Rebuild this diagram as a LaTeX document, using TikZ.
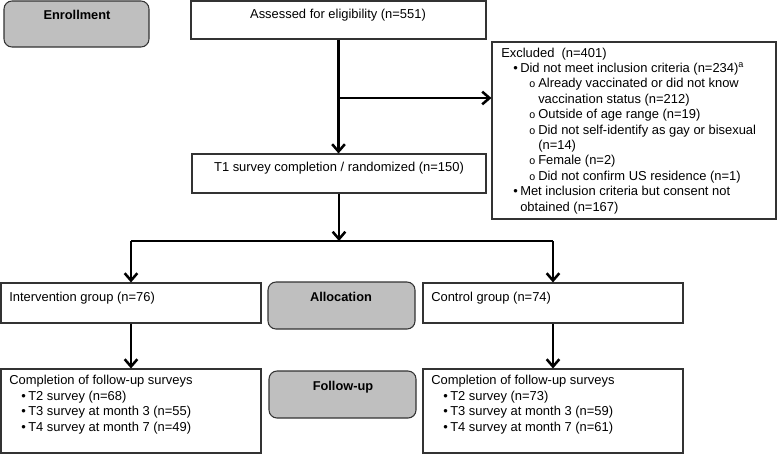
\documentclass[tikz,border=0pt]{standalone}
\usepackage{fontspec}
\setmainfont{Liberation Sans}
\usetikzlibrary{arrows.meta,fit,calc}

% list indents
\newcommand{\lvA}{\hspace*{9pt}\makebox[5.25pt][l]{\textbullet}}
\newcommand{\lvB}{\hspace*{21pt}\makebox[6.75pt][l]{\footnotesize o}}

\tikzset{
  box/.style={draw=black!80, line width=0.8pt, inner sep=0pt},
  stage/.style={box, fill=black!25, rounded corners=6pt},
  txt/.style={inner sep=0pt, font=\fontsize{9.7}{11.55}\selectfont, align=left},
  hdr/.style={inner sep=0pt, font=\fontsize{9.6}{11.55}\selectfont\bfseries},
  link/.style={line width=1.9pt},
  arr/.style={link, -{Straight Barb[length=5.5pt,width=9.5pt]}},
}

\begin{document}
\begin{tikzpicture}[x=0.75pt,y=-0.75pt]
\useasboundingbox (0,0) rectangle (777,454);

% boxes
\node[stage, fit={(4,1) (149,47)}] (enroll) {};
\node[box, fit={(191,1) (486,39)}] (assess) {};
\node[box, fit={(492,42) (776,219)}] (excl) {};
\node[box, fit={(192,154) (486,193)}] (t1) {};
\node[box, fit={(1,283) (261,323)}] (interv) {};
\node[stage, fit={(268,282) (415,329)}] (alloc) {};
\node[box, fit={(423,283) (683,323)}] (ctrl) {};
\node[box, fit={(1,369) (261,453)}] (intfu) {};
\node[stage, fit={(269,371) (416,418)}] (fu) {};
\node[box, fit={(423,369) (683,453)}] (ctrlfu) {};

% texts (multi-line ones anchored at their last baseline)
\node[hdr, anchor=base] (enrolltxt) at (77,19) {Enrollment};
\node[txt, anchor=base] (assesstxt) at (338,18) {Assessed for eligibility (n=551)};
\node[txt, anchor=base west] (excltxt) at (501,211) {Excluded~~(n=401)\\
\lvA Did not meet inclusion criteria (n=234)\textsuperscript{a}\\
\lvB Already vaccinated or did not know\\
\hspace*{27.75pt}vaccination status (n=212)\\
\lvB Outside of age range (n=19)\\
\lvB Did not self-identify as gay or bisexual\\
\hspace*{27.75pt}(n=14)\\
\lvB Female (n=2)\\
\lvB Did not confirm US residence (n=1)\\
\lvA Met inclusion criteria but consent not\\
\hspace*{14.25pt}obtained (n=167)};
\node[txt, anchor=base] (t1txt) at (339,171) {T1 survey completion / randomized (n=150)};
\node[txt, anchor=base west] (intervtxt) at (9,301) {Intervention group (n=76)};
\node[hdr, anchor=base] (alloctxt) at (341,301) {Allocation};
\node[txt, anchor=base west] (ctrltxt) at (431,301) {Control group (n=74)};
\node[txt, anchor=base west] (intfutxt) at (9,431) {Completion of follow-up surveys\\
\lvA T2 survey (n=68)\\
\lvA T3 survey at month 3 (n=55)\\
\lvA T4 survey at month 7 (n=49)};
\node[hdr, anchor=base] (futxt) at (343,390) {Follow-up};
\node[txt, anchor=base west] (ctrlfutxt) at (431,431) {Completion of follow-up surveys\\
\lvA T2 survey (n=73)\\
\lvA T3 survey at month 3 (n=59)\\
\lvA T4 survey at month 7 (n=61)};

% connectors
\coordinate (split) at (assess.south |- 0,98);
\coordinate (fork) at (t1.south |- 0,241);
\draw[arr] (assess.south) -- (assess.south |- t1.north);
\draw[arr] (split) -- (split -| excl.west);
\draw[arr] (t1.south) -- (fork);
\draw[link] (interv.north |- fork) -- (ctrl.north |- fork);
\draw[arr] (interv.north |- fork) -- (interv.north);
\draw[arr] (ctrl.north |- fork) -- (ctrl.north);
\draw[arr] (interv.south) -- (intfu.north);
\draw[arr] (ctrl.south) -- (ctrlfu.north);
\end{tikzpicture}
\end{document}
